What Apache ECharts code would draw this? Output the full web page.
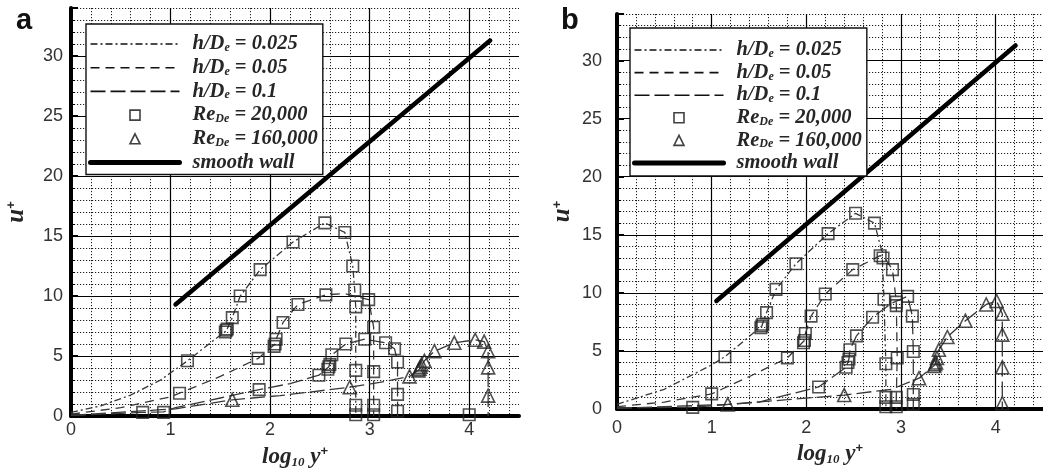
<!DOCTYPE html>
<html>
<head>
<meta charset="utf-8">
<title>Velocity profiles u+ vs log10 y+</title>
<script src="https://cdn.jsdelivr.net/npm/echarts@6.0.0/dist/echarts.min.js"></script>
<style>
  html, body { margin: 0; padding: 0; background: #ffffff; }
  #chart { width: 1043px; height: 474px; }
</style>
</head>
<body>
<div id="chart"></div>
<script>
// Axis ranges: log10 y+ horizontally, u+ vertically
const xRange = [0, 4.5];
const yRange = [0, 34.01];
const xStep = 1;
const yStep = 5;

// Smooth-wall log law
const smoothWall = [[1.05, 9.3], [4.21, 31.3]];

// ---- Panel a : curves [log10 y+, u+] ----
const aCurve025 = [[0, 0.3], [0.3, 0.85], [0.6, 1.75], [0.9, 3.0], [1.17, 4.6], [1.4, 6.1], [1.56, 7.1], [1.62, 8.2], [1.70, 10.0], [1.90, 12.2], [2.23, 14.5], [2.55, 16.1], [2.75, 15.3], [2.83, 12.5], [2.85, 10.5], [2.86, 9.1], [2.86, 3.8], [2.86, 0.9], [2.86, 0]];
const aCurve05 = [[0, 0.15], [0.5, 0.7], [1.0, 1.6], [1.09, 1.9], [1.5, 3.3], [1.88, 4.8], [2.05, 6.0], [2.06, 6.4], [2.13, 7.8], [2.28, 9.3], [2.56, 10.1], [2.75, 10.2], [2.99, 9.7], [3.04, 7.4], [3.04, 3.7], [3.04, 0.9], [3.04, 0]];
const aCurve1 = [[0, 0.05], [0.72, 0.3], [0.93, 0.35], [1.05, 0.7], [1.5, 1.5], [1.89, 2.2], [2.2, 2.7], [2.49, 3.4], [2.59, 4.1], [2.62, 5.1], [2.76, 6.0], [2.95, 6.4], [3.16, 6.1], [3.25, 5.6], [3.28, 4.5], [3.28, 1.8], [3.28, 0.4], [3.28, 0]];
const aCurveHiRe = [[0, 0.05], [1.05, 0.6], [1.62, 1.35], [2.1, 1.7], [2.8, 2.4], [3.1, 2.8], [3.4, 3.3], [3.5, 3.9], [3.55, 4.6], [3.65, 5.4], [3.85, 6.1], [4.06, 6.35], [4.15, 6.2], [4.19, 5.4], [4.19, 4.05], [4.19, 1.7], [4.19, 0]];

// ---- Panel a : measured points ----
const aSquares = [[1.17, 4.6], [1.55, 7.0], [1.56, 7.15], [1.57, 7.25], [1.62, 8.2], [1.70, 10.0], [1.90, 12.2], [2.23, 14.5], [2.55, 16.1], [2.75, 15.3], [2.83, 12.5], [2.85, 10.5], [2.86, 9.1], [2.86, 3.8], [2.86, 0.9], [2.86, 0.1],
  [1.09, 1.9], [1.88, 4.8], [2.04, 5.8], [2.05, 6.0], [2.06, 6.4], [2.13, 7.8], [2.28, 9.3], [2.56, 10.1], [2.99, 9.7], [3.04, 7.4], [3.04, 3.7], [3.04, 0.9], [3.04, 0.1],
  [0.72, 0.3], [0.93, 0.3], [1.89, 2.2], [2.49, 3.4], [2.58, 3.9], [2.59, 4.1], [2.60, 4.3], [2.62, 5.1], [2.76, 6.0], [2.95, 6.4], [3.16, 6.1], [3.25, 5.6], [3.28, 4.5], [3.28, 1.8], [3.28, 0.4], [4.0, 0.1]];
const aTriangles = [[1.62, 1.35], [2.80, 2.4], [3.40, 3.3], [3.49, 3.8], [3.50, 3.95], [3.51, 4.1], [3.52, 4.3], [3.55, 4.6], [3.65, 5.4], [3.85, 6.1], [4.06, 6.35], [4.15, 6.2], [4.19, 5.4], [4.19, 4.05], [4.19, 1.7]];

// ---- Panel b : curves ----
const bCurve025 = [[0, 0.4], [0.5, 1.7], [1.0, 3.8], [1.14, 4.5], [1.53, 7.15], [1.58, 8.3], [1.68, 10.3], [1.89, 12.5], [2.23, 15.1], [2.52, 16.85], [2.72, 16.0], [2.80, 13.5], [2.82, 9.45], [2.84, 3.9], [2.84, 1.0], [2.84, 0]];
const bCurve05 = [[0, 0.2], [0.5, 0.6], [1.0, 1.3], [1.4, 2.8], [1.80, 4.4], [1.98, 5.9], [1.99, 6.5], [2.05, 8.0], [2.20, 9.9], [2.49, 12.0], [2.78, 13.2], [2.83, 13.0], [2.91, 12.0], [2.95, 9.3], [2.96, 4.4], [2.95, 1.0], [2.95, 0]];
const bCurve1 = [[0, 0.1], [0.8, 0.15], [1.5, 0.6], [2.13, 1.9], [2.42, 3.6], [2.45, 4.3], [2.46, 5.1], [2.53, 6.3], [2.70, 7.9], [2.90, 9.1], [3.07, 9.7], [3.12, 8.0], [3.13, 4.95], [3.13, 1.25], [3.13, 0]];
const bCurveHiRe = [[0, 0.05], [1.17, 0.4], [1.8, 0.8], [2.40, 1.2], [2.9, 1.7], [3.19, 2.65], [3.36, 3.8], [3.40, 5.1], [3.49, 6.2], [3.68, 7.6], [3.90, 9.0], [4.01, 9.3], [4.07, 8.2], [4.07, 6.4], [4.07, 3.6], [4.07, 0.5], [4.07, 0]];

// ---- Panel b : measured points ----
const bSquares = [[1.14, 4.5], [1.52, 7.0], [1.53, 7.15], [1.54, 7.3], [1.58, 8.3], [1.68, 10.3], [1.89, 12.5], [2.23, 15.1], [2.52, 16.85], [2.72, 16.0], [2.82, 9.45], [2.84, 3.9], [2.84, 1.0], [2.84, 0.2],
  [1.0, 1.3], [1.80, 4.4], [1.97, 5.7], [1.98, 5.9], [1.99, 6.5], [2.05, 8.0], [2.20, 9.9], [2.49, 12.0], [2.78, 13.2], [2.81, 13.0], [2.91, 12.0], [2.95, 9.2], [2.95, 8.9], [2.96, 4.4], [2.95, 1.0], [2.95, 0.2],
  [0.80, 0.14], [2.13, 1.9], [2.42, 3.6], [2.44, 4.0], [2.45, 4.3], [2.46, 5.1], [2.53, 6.3], [2.70, 7.9], [3.07, 9.7], [3.12, 8.0], [3.13, 4.95], [3.13, 1.25], [3.13, 0.4]];
const bTriangles = [[1.17, 0.4], [2.40, 1.2], [3.19, 2.65], [3.35, 3.7], [3.36, 3.85], [3.37, 4.0], [3.38, 4.4], [3.40, 5.1], [3.49, 6.2], [3.68, 7.6], [3.90, 9.0], [4.01, 9.3], [4.07, 8.2], [4.07, 6.4], [4.07, 3.6], [4.07, 0.5]];

// Legend entries
const legendNames = ['0.025', '0.05', '0.1', '20,000', '160,000', 'smooth wall'];
const legendLabels = {
  '0.025': '{g|}{t|h/D}{e|e}{t| = 0.025}',
  '0.05': '{g|}{t|h/D}{e|e}{t| = 0.05}',
  '0.1': '{g|}{t|h/D}{e|e}{t| = 0.1}',
  '20,000': '{g|}{t|Re}{d|De}{t| = 20,000}',
  '160,000': '{g|}{t|Re}{d|De}{t| = 160,000}',
  'smooth wall': '{g|}{t|smooth wall}'
};

const INK = '#262626';
const SERIF = '"Liberation Serif", "DejaVu Serif", serif';
const SANS = '"Liberation Sans", Arial, sans-serif';
const dashes = { '0.025': [7, 3, 2, 3], '0.05': [9, 6], '0.1': [15, 5] };

function curve(name, data, i) {
  return {
    type: 'line', name: name, data: data, xAxisIndex: i, yAxisIndex: i,
    symbol: 'none', silent: true, z: 3,
    lineStyle: { color: '#383838', width: 1.3, type: dashes[name] }
  };
}
function points(name, data, i, shape, size) {
  return {
    type: 'scatter', name: name, data: data, xAxisIndex: i, yAxisIndex: i,
    symbol: shape, symbolSize: size, silent: true, z: 4,
    itemStyle: { color: 'rgba(255,255,255,0)', borderColor: '#262626', borderWidth: 1.6 }
  };
}
function wall(i) {
  return {
    type: 'line', name: 'smooth wall', data: smoothWall, xAxisIndex: i, yAxisIndex: i,
    symbol: 'none', silent: true, z: 5,
    lineStyle: { color: '#000', width: 4.5, cap: 'round' }
  };
}

const legendItems = [
  { name: '0.025', lineStyle: { type: dashes['0.025'], width: 1.6, color: '#111' }, itemStyle: { opacity: 0 } },
  { name: '0.05', lineStyle: { type: dashes['0.05'], width: 1.6, color: '#111' }, itemStyle: { opacity: 0 } },
  { name: '0.1', lineStyle: { type: dashes['0.1'], width: 1.6, color: '#111' }, itemStyle: { opacity: 0 } },
  { name: '20,000', icon: 'path://M0,0H10V10H0Z', itemStyle: { color: '#fff', borderColor: '#111', borderWidth: 1.6 } },
  { name: '160,000', icon: 'path://M5,0L10,10H0Z', itemStyle: { color: '#fff', borderColor: '#111', borderWidth: 1.6 } },
  { name: 'smooth wall', lineStyle: { type: 'solid', width: 5, color: '#000', cap: 'round' }, itemStyle: { opacity: 0 } }
];

const textTok = { fontFamily: SERIF, fontStyle: 'italic', fontWeight: 'bold', color: INK };
const legendRich = {
  g: { width: 8 },
  t: Object.assign({ fontSize: 20.5, lineHeight: 20 }, textTok),
  e: Object.assign({ fontSize: 12, lineHeight: 6, verticalAlign: 'bottom' }, textTok),
  d: Object.assign({ fontSize: 12, lineHeight: 2, verticalAlign: 'bottom' }, textTok)
};

function legendFor(left, top, gap, padding) {
  return {
    left: left, top: top, orient: 'vertical', align: 'left',
    padding: padding, itemGap: gap, itemWidth: 89, itemHeight: 10,
    backgroundColor: '#fff', borderColor: '#111', borderWidth: 1.4,
    selectedMode: false, z: 10,
    data: legendItems,
    formatter: function (n) { return legendLabels[n]; },
    textStyle: { rich: legendRich }
  };
}

function xAxisFor(i, labelMargin, nameGap) {
  return {
    type: 'value', gridIndex: i, min: xRange[0], max: xRange[1], interval: xStep,
    axisLine: { show: true, onZero: false, lineStyle: { color: '#000', width: 4 } },
    axisTick: { show: false },
    minorTick: { show: false, splitNumber: 5 },
    axisLabel: { margin: labelMargin, fontSize: 18, color: '#333', fontFamily: SANS, showMaxLabel: false },
    splitLine: { show: true, showMinLine: false, showMaxLine: false, lineStyle: { color: '#000', width: 1.2 } },
    minorSplitLine: { show: true, lineStyle: { color: '#1e1e1e', width: 1, type: [1.2, 1.8] } },
    name: '{t|log}{s|10}{t| y}{p|+}', nameLocation: 'middle', nameGap: nameGap,
    nameTextStyle: {
      rich: {
        t: Object.assign({ fontSize: 23, lineHeight: 24 }, textTok),
        s: Object.assign({ fontSize: 13, lineHeight: 4, verticalAlign: 'bottom' }, textTok),
        p: { fontFamily: SANS, fontWeight: 'bold', fontSize: 13, lineHeight: 8, verticalAlign: 'top', color: INK }
      }
    }
  };
}
function yAxisFor(i, labelMargin, nameGap) {
  return {
    type: 'value', gridIndex: i, min: yRange[0], max: yRange[1], interval: yStep,
    axisLine: { show: true, onZero: false, lineStyle: { color: '#000', width: 4 } },
    axisTick: { show: true, inside: true, length: 7, lineStyle: { color: '#000', width: 2 } },
    minorTick: { show: true, splitNumber: 5, length: 4, lineStyle: { color: '#000', width: 1 } },
    axisLabel: { margin: labelMargin, fontSize: 18, color: '#333', fontFamily: SANS, showMaxLabel: false },
    splitLine: { show: true, showMinLine: false, showMaxLine: false, lineStyle: { color: '#000', width: 1.2 } },
    minorSplitLine: { show: true, lineStyle: { color: '#1e1e1e', width: 1, type: [1.2, 1.8] } },
    name: '{t|u}{p|+}', nameLocation: 'middle', nameRotate: 90, nameGap: nameGap,
    nameTextStyle: {
      rich: {
        t: Object.assign({ fontSize: 25, lineHeight: 24 }, textTok),
        p: { fontFamily: SANS, fontWeight: 'bold', fontSize: 13, lineHeight: 8, verticalAlign: 'top', color: INK }
      }
    }
  };
}

const chart = echarts.init(document.getElementById('chart'), null, { renderer: 'canvas' });
chart.setOption({
  backgroundColor: '#ffffff',
  animation: false,
  title: [
    { text: 'a', left: 11, top: 1, textStyle: { fontFamily: SANS, fontWeight: 'bold', fontSize: 29, color: '#111' } },
    { text: 'b', left: 556, top: 1, textStyle: { fontFamily: SANS, fontWeight: 'bold', fontSize: 29, color: '#111' } }
  ],
  grid: [
    { left: 71, top: 8, width: 448, height: 409 },
    { left: 617, top: 14, width: 432, height: 395 }
  ],
  xAxis: [xAxisFor(0, 5, 29), xAxisFor(1, 10, 22)],
  yAxis: [yAxisFor(0, 8, 42), yAxisFor(1, 15, 42)],
  legend: [
    legendFor(86, 24, 3.7, [10, 5, 2, 2]),
    legendFor(630, 28, 2.6, [12, 5, 3, 2])
  ],
  series: [
    curve('0.025', aCurve025, 0), curve('0.05', aCurve05, 0), curve('0.1', aCurve1, 0), curve('0.1', aCurveHiRe, 0),
    points('20,000', aSquares, 0, 'rect', 11.5), points('160,000', aTriangles, 0, 'triangle', 13),
    wall(0),
    curve('0.025', bCurve025, 1), curve('0.05', bCurve05, 1), curve('0.1', bCurve1, 1), curve('0.1', bCurveHiRe, 1),
    points('20,000', bSquares, 1, 'rect', 11.5), points('160,000', bTriangles, 1, 'triangle', 13),
    wall(1)
  ]
});
</script>
</body>
</html>
